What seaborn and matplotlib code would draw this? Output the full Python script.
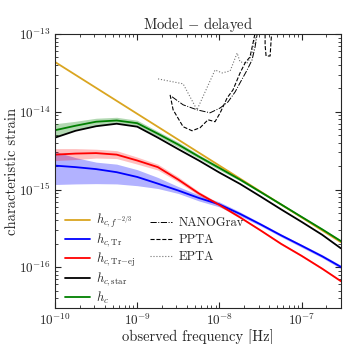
import numpy as np
import pandas as pd
import seaborn as sns
import matplotlib.pyplot as plt

# -----------------------------
# data
# -----------------------------
freq = [1.00e-10, 1.78e-10, 3.16e-10, 5.62e-10, 1.00e-9, 1.78e-9, 3.16e-9, 5.62e-9,
        1.00e-8, 1.78e-8, 3.16e-8, 5.62e-8, 1.00e-7, 1.78e-7, 3.00e-7]

h_f23 = [4.37e-14, 2.10e-16]          # straight f^-2/3 line, ends at 1e-10 and 3e-7
f_f23 = [1.00e-10, 3.00e-7]

h_green = [5.79e-15, 6.62e-15, 7.45e-15, 7.73e-15, 7.13e-15, 5.22e-15, 3.78e-15, 2.65e-15,
           1.89e-15, 1.34e-15, 9.29e-16, 6.43e-16, 4.44e-16, 3.07e-16, 2.17e-16]
green_hi = [7.02e-15, 7.55e-15, 8.26e-15, 8.50e-15, 7.78e-15, 5.62e-15, 4.07e-15, 2.81e-15,
            2.00e-15, 1.40e-15, 9.57e-16, 6.62e-16, 4.57e-16, 3.16e-16, 2.24e-16]
green_lo = [4.78e-15, 5.79e-15, 6.71e-15, 7.13e-15, 6.52e-15, 4.85e-15, 3.51e-15, 2.50e-15,
            1.78e-15, 1.29e-15, 9.02e-16, 6.24e-16, 4.32e-16, 2.98e-16, 2.11e-16]

h_star = [4.65e-15, 5.70e-15, 6.52e-15, 7.02e-15, 6.43e-15, 4.65e-15, 3.30e-15, 2.36e-15,
          1.65e-15, 1.18e-15, 8.13e-16, 5.55e-16, 3.83e-16, 2.61e-16, 1.75e-16]

h_trej = [2.81e-15, 2.90e-15, 2.94e-15, 2.81e-15, 2.36e-15, 1.94e-15, 1.34e-15, 8.89e-16,
          6.32e-16, 4.38e-16, 2.98e-16, 2.00e-16, 1.40e-16, 9.57e-17, 6.62e-17]
trej_hi = [3.36e-15, 3.36e-15, 3.30e-15, 3.16e-15, 2.61e-15, 2.12e-15, 1.45e-15, 9.42e-16,
           6.62e-16, 4.51e-16, 3.07e-16, 2.06e-16, 1.45e-16, 9.86e-17, 6.81e-17]
trej_lo = [2.36e-15, 2.43e-15, 2.54e-15, 2.50e-15, 2.12e-15, 1.78e-15, 1.25e-15, 8.38e-16,
           6.05e-16, 4.25e-16, 2.90e-16, 1.94e-16, 1.36e-16, 9.29e-17, 6.43e-17]

h_tr = [2.03e-15, 1.94e-15, 1.83e-15, 1.67e-15, 1.45e-15, 1.19e-15, 9.70e-16, 7.78e-16,
        6.43e-16, 4.85e-16, 3.56e-16, 2.57e-16, 1.89e-16, 1.38e-16, 1.01e-16]
tr_hi = [3.07e-15, 2.57e-15, 2.25e-15, 2.12e-15, 1.80e-15, 1.43e-15, 1.09e-15, 8.49e-16,
         6.92e-16, 5.15e-16, 3.72e-16, 2.69e-16, 1.97e-16, 1.45e-16, 1.06e-16]
tr_lo = [1.16e-15, 1.18e-15, 1.19e-15, 1.18e-15, 1.12e-15, 1.03e-15, 8.89e-16, 7.13e-16,
         5.97e-16, 4.57e-16, 3.40e-16, 2.46e-16, 1.80e-16, 1.32e-16, 9.57e-17]

# PTA sensitivity curves
f_nano = [2.65e-9, 3.61e-9, 5.33e-9, 7.69e-9, 1.02e-8, 1.27e-8, 1.55e-8, 1.78e-8,
          2.17e-8, 2.49e-8, 2.71e-8, 2.86e-8, 3.03e-8]
h_nano = [1.56e-14, 1.23e-14, 1.06e-14, 9.70e-15, 1.12e-14, 1.34e-14, 1.80e-14, 2.36e-14,
          3.45e-14, 4.65e-14, 6.81e-14, 9.70e-14, 1.30e-13]

f_ppta = [2.51e-9, 2.73e-9, 3.61e-9, 4.64e-9, 5.81e-9, 7.26e-9, 8.83e-9, 1.02e-8, 1.24e-8,
          1.46e-8, 1.78e-8, 2.05e-8, 2.35e-8, 2.56e-8, 2.71e-8, 3.00e-8,
          3.59e-8, 3.59e-8, 3.69e-8, 4.13e-8, 4.25e-8, 4.37e-8]
h_ppta = [1.65e-14, 1.06e-14, 6.43e-15, 5.70e-15, 6.24e-15, 7.89e-15, 7.45e-15, 9.70e-15, 1.51e-14,
          1.91e-14, 3.16e-14, 4.25e-14, 5.07e-14, 7.67e-14, 1.03e-13, 1.60e-13,
          1.50e-13, 7.22e-14, 5.22e-14, 5.22e-14, 8.38e-14, 1.30e-13]

f_epta = [1.79e-9, 3.61e-9, 5.33e-9, 8.83e-9, 1.08e-8, 1.35e-8, 1.64e-8, 1.78e-8, 2.17e-8,
          2.49e-8, 2.56e-8, 2.86e-8]
h_epta = [2.65e-14, 2.29e-14, 1.06e-14, 3.45e-14, 3.16e-14, 3.36e-14, 5.70e-14, 4.38e-14, 4.25e-14,
          5.38e-14, 6.81e-14, 1.03e-13]

# -----------------------------
# style
# -----------------------------
sns.set_style("ticks")
plt.rcParams['font.family'] = ['serif']
plt.rcParams['font.serif'] = ['cmr10', 'DejaVu Serif']
plt.rcParams['mathtext.fontset'] = 'cm'
plt.rcParams['axes.unicode_minus'] = False
plt.rcParams['axes.formatter.use_mathtext'] = True
plt.rcParams['xtick.direction'] = 'in'
plt.rcParams['ytick.direction'] = 'in'

fig = plt.figure(figsize=(3.44, 3.44), dpi=100)
ax = fig.add_axes([0.160, 0.105, 0.831, 0.796])

# bands
ax.fill_between(freq, tr_lo, tr_hi, color='blue', alpha=0.3, lw=0)
ax.fill_between(freq, trej_lo, trej_hi, color='red', alpha=0.25, lw=0)
ax.fill_between(freq, green_lo, green_hi, color='green', alpha=0.3, lw=0)

lw = 1.3
sns.lineplot(x=f_f23, y=h_f23, ax=ax, color='goldenrod', lw=lw, label=r'$h_{c,f^{-2/3}}$')
sns.lineplot(x=freq, y=h_tr, ax=ax, color='blue', lw=lw, label=r'$h_{c,\rm Tr}$')
sns.lineplot(x=freq, y=h_trej, ax=ax, color='red', lw=lw, label=r'$h_{c,\rm Tr\!-\!ej}$')
sns.lineplot(x=freq, y=h_star, ax=ax, color='black', lw=lw, label=r'$h_{c,\rm star}$')
sns.lineplot(x=freq, y=h_green, ax=ax, color='green', lw=lw, label=r'$h_c$')

sns.lineplot(x=f_nano, y=h_nano, ax=ax, color='black', lw=0.7, ls='-.', sort=False,
             estimator=None, label='NANOGrav')
sns.lineplot(x=f_ppta, y=h_ppta, ax=ax, color='black', lw=0.8, ls='--', sort=False,
             estimator=None, label='PPTA')
sns.lineplot(x=f_epta, y=h_epta, ax=ax, color='0.45', lw=0.8, ls=':', sort=False,
             estimator=None, label='EPTA')

ax.set_xscale('log')
ax.set_yscale('log')
ax.set_xlim(1e-10, 3e-7)
ax.set_ylim(3e-17, 1e-13)

ax.tick_params(which='both', top=True, right=True, labelsize=9.5)
ax.tick_params(which='major', length=4, pad=3)
ax.tick_params(which='minor', length=2)

ax.set_title(r'Model $-$ delayed', fontsize=10.5, pad=2)
ax.set_xlabel('observed frequency [Hz]', fontsize=10.5, labelpad=1)
ax.set_ylabel('characteristic strain', fontsize=10.5, labelpad=0)

handles, labels = ax.get_legend_handles_labels()
leg1 = ax.legend(handles[:5], labels[:5], loc='center left', frameon=False, fontsize=9,
                 handlelength=2.0, handletextpad=0.5, labelspacing=0.12,
                 borderpad=0, borderaxespad=0, bbox_to_anchor=(0.035, 0.179))
ax.add_artist(leg1)
ax.legend(handles[5:], labels[5:], loc='center left', frameon=False, fontsize=9,
          handlelength=1.76, handletextpad=0.5, labelspacing=0.4,
          borderpad=0, borderaxespad=0, bbox_to_anchor=(0.332, 0.248))

fig.savefig('out.png', dpi=100)
